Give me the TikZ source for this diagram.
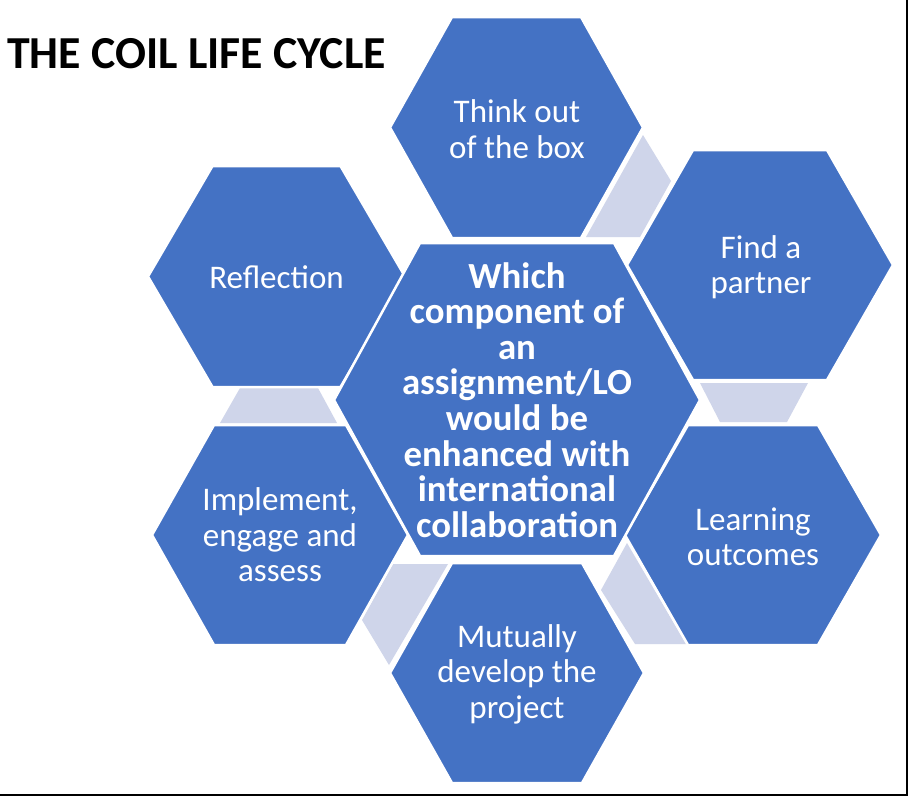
\documentclass[tikz,border=0pt]{standalone}
\usepackage{fontspec}
\setmainfont{Carlito}
\definecolor{hexblue}{HTML}{4472C4}
\definecolor{linklav}{HTML}{CFD5EA}
\tikzset{
  hexfill/.style={fill=hexblue, draw=white, line width=2.5pt, line join=miter},
  linkfill/.style={fill=linklav},
  hextext/.style={text=white, align=center, font=\fontsize{33}{35.5}\selectfont, inner sep=0pt},
  centertext/.style={text=white, align=center, font=\bfseries\fontsize{36.8}{35.6}\selectfont, inner sep=0pt},
  titletext/.style={text=black, font=\bfseries\fontsize{45.8}{50}\selectfont, inner sep=0pt},
}
\newcommand{\hexdraw}[5]{% cx cy w t h
  \path[hexfill] ({#1-#3},#2) -- ({#1-#4},{#2-#5}) -- ({#1+#4},{#2-#5}) -- ({#1+#3},#2) -- ({#1+#4},{#2+#5}) -- ({#1-#4},{#2+#5}) -- cycle;}

\begin{document}
\begin{tikzpicture}[x=1pt,y=-1pt]
\useasboundingbox (0,0) rectangle (910,796);
\fill[white] (0,0) rectangle (910,796);
% light connectors
\fill[linkfill] (643,135) -- (671,181) -- (640,237) -- (586,237) -- cycle;
\fill[linkfill] (700,383) -- (808,383) -- (787,422) -- (720,422) -- cycle;
\fill[linkfill] (627,543) -- (601,590) -- (635,644) -- (686,644) -- cycle;
\fill[linkfill] (393,564) -- (448,564) -- (389,665) -- (362,620) -- cycle;
\fill[linkfill] (240,388) -- (318,388) -- (337,423) -- (220,423) -- cycle;
% outer hexagons
\hexdraw{516.5}{127.5}{126.5}{64.5}{110.5}
\hexdraw{760}{265}{133}{67}{115}
\hexdraw{753}{535}{128}{65}{110}
\hexdraw{517}{673}{127}{65}{110}
\hexdraw{280}{535}{128}{66}{110}
\hexdraw{276.5}{276.5}{128.5}{64}{110.5}
% centre hexagon
\path[hexfill] (334,400) -- (420,243) -- (614,243) -- (700,400) -- (614,556) -- (420,556) -- cycle;
% texts
\node[hextext] (think) at (517,129) {Think out\\of the box};
\node[hextext] (find) at (761,267) {Find a\\partner};
\node[hextext] (learn) at (753,537) {Learning\\outcomes};
\node[hextext] (mutual) at (517,674) {Mutually\\develop the\\project};
\node[hextext] (implement) at (280,535) {Implement,\\engage and\\assess};
\node[hextext] (reflect) at (276.5,277) {Reflection};
\node[centertext] (centre) at (517,400) {Which\\component of\\an\\assignment/LO\\would be\\enhanced with\\international\\collaboration};
\node[titletext, anchor=base west] (title) at (7,68) {THE COIL LIFE CYCLE};
% frame lines
\draw[black, line width=2pt] (906.5,0) -- (906.5,795) -- (0,795);
\end{tikzpicture}
\end{document}
